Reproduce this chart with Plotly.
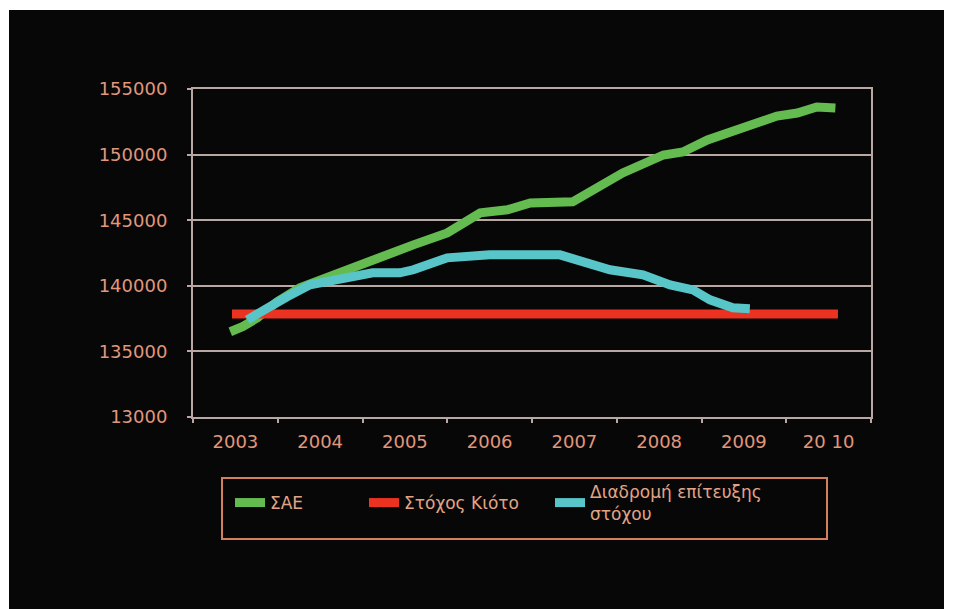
import plotly.graph_objects as go

# ---- data -------------------------------------------------------------
# ΣΑΕ (total emissions) – positions along the year axis and values
sae_x = [2002.94, 2003.09, 2003.26, 2003.49, 2003.76, 2004.00, 2004.23, 2004.55,
         2004.79, 2005.10, 2005.50, 2005.69, 2005.89, 2006.21, 2006.48, 2006.98,
         2007.27, 2007.57, 2008.05, 2008.28, 2008.57, 2009.04, 2009.39, 2009.63,
         2009.86, 2010.08]
sae_y = [136500, 136900, 137560, 138780, 139850, 140460, 141070, 141750,
         142360, 143120, 144030, 144870, 145560, 145790, 146320, 146400,
         147460, 148600, 149970, 150200, 151120, 152260, 152940, 153170,
         153630, 153550]

# Στόχος Κιότο (Kyoto target)
kyoto_x = [2002.96, 2010.11]
kyoto_y = [137850, 137850]

# Διαδρομή επίτευξης στόχου (path to the target)
path_x = [2003.14, 2003.37, 2003.61, 2003.88, 2004.15, 2004.32, 2004.62, 2004.94,
          2005.10, 2005.50, 2006.00, 2006.83, 2007.07, 2007.42, 2007.81, 2008.13,
          2008.40, 2008.60, 2008.87, 2009.07]
path_y = [137410, 138320, 139160, 140070, 140460, 140680, 140990, 140990,
          141220, 142130, 142360, 142360, 141830, 141220, 140840, 140070,
          139690, 138930, 138320, 138250]

years = [2003, 2004, 2005, 2006, 2007, 2008, 2009, 2010]
year_labels = ["2003", "2004", "2005", "2006", "2007", "2008", "2009", "20 10"]
y_ticks = [130000, 135000, 140000, 145000, 150000, 155000]
y_labels = ["13000", "135000", "140000", "145000", "150000", "155000"]

names = ["ΣΑΕ", "Στόχος Κιότο", "Διαδρομή επίτευξης<br>στόχου"]

# ---- styling ----------------------------------------------------------
W, H = 954, 609
L, R, T, B = 193, 83, 89, 192
PW, PH = W - L - R, H - T - B

BG = "#070707"
GRID = "#b9a7a3"
TICK = "#e0977c"
LEG_TEXT = "#e2a486"
LEG_BORDER = "#d4805e"
FONT = "DejaVu Sans"
colors = ["#64bb50", "#ec3220", "#58c6c8"]


def px_x(p):
    return (p - L) / PW


def px_y(p):
    return (H - B - p) / PH


fig = go.Figure()
series = [(sae_x, sae_y), (kyoto_x, kyoto_y), (path_x, path_y)]
legend_ids = ["legend", "legend2", "legend3"]
for (xs, ys), name, col, lg in zip(series, names, colors, legend_ids):
    fig.add_trace(go.Scatter(
        x=xs, y=ys, mode="lines", name=name, legend=lg,
        line=dict(color=col, width=9),
        hoverinfo="skip",
    ))

legend_common = dict(
    orientation="h", yanchor="middle", xanchor="left",
    bgcolor="rgba(0,0,0,0)", borderwidth=0, valign="middle",
    font=dict(family=FONT, size=17, color=LEG_TEXT), itemwidth=30,
)
leg_y = px_y(503)

fig.update_layout(
    width=W, height=H,
    margin=dict(l=L, r=R, t=T, b=B, autoexpand=False),
    paper_bgcolor="white",
    plot_bgcolor=BG,
    showlegend=True,
    legend=dict(x=px_x(230), y=leg_y, **legend_common),
    legend2=dict(x=px_x(364), y=leg_y, **legend_common),
    legend3=dict(x=px_x(550), y=leg_y, **legend_common),
    xaxis=dict(
        range=[2002.5, 2010.5], tickmode="array", tickvals=years,
        ticktext=year_labels, ticks="", showgrid=False, zeroline=False,
        showline=True, mirror=True, linecolor=GRID, linewidth=2,
        tickfont=dict(family=FONT, size=18, color=TICK),
        ticklabelstandoff=7,
        minor=dict(tickvals=[y - 0.5 for y in years] + [2010.5],
                   ticks="outside", ticklen=4, tickcolor=GRID, tickwidth=2,
                   showgrid=False),
        fixedrange=True,
    ),
    yaxis=dict(
        range=[130000, 155000], tickmode="array", tickvals=y_ticks,
        ticktext=y_labels, ticks="outside", ticklen=4, tickcolor=GRID,
        tickwidth=2, showgrid=True, gridcolor=GRID, gridwidth=2,
        zeroline=False, showline=True, mirror=True, linecolor=GRID,
        linewidth=2, tickfont=dict(family=FONT, size=18, color=TICK),
        ticklabelstandoff=16, fixedrange=True,
    ),
    shapes=[
        # dark panel behind the whole chart
        dict(type="rect", xref="paper", yref="paper", layer="below",
             x0=px_x(9), x1=px_x(944), y0=px_y(609), y1=px_y(10),
             fillcolor=BG, line=dict(width=0)),
        # legend frame
        dict(type="rect", xref="paper", yref="paper", layer="above",
             x0=px_x(222), x1=px_x(827), y0=px_y(539), y1=px_y(478),
             fillcolor="rgba(0,0,0,0)", line=dict(color=LEG_BORDER, width=2)),
    ],
)

fig.write_html("out.html")
